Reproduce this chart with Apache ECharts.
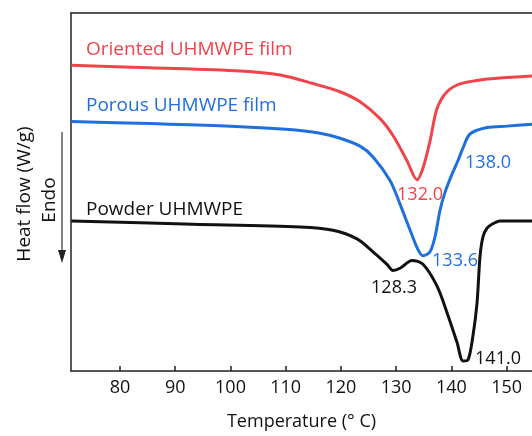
<!DOCTYPE html>
<html>
<head>
<meta charset="utf-8">
<script src="https://cdn.jsdelivr.net/npm/echarts@6/dist/echarts.min.js"></script>
<style>
html,body{margin:0;padding:0;background:#fff;}
#main{width:532px;height:436px;}
</style>
</head>
<body>
<div id="main"></div>
<script>
// Temperature (°C) and heat flow (arbitrary W/g offset units)
var orientedT = [71.2, 85.43, 101.72, 108.96, 114.94, 119.83, 123.45, 127.07, 129.42, 131.96, 133.77, 134.85, 136.12, 137.39, 139.20, 141.55, 145.17, 148.25, 154.58];
var orientedHF = [8.54, 8.47, 8.38, 8.27, 8.03, 7.80, 7.52, 7.05, 6.58, 5.87, 5.34, 5.67, 6.42, 7.33, 7.80, 8.02, 8.13, 8.18, 8.24];

var porousT = [71.2, 85.43, 100.0, 110.0, 116.21, 119.83, 123.45, 125.80, 128.88, 130.69, 132.50, 133.95, 134.85, 136.12, 137.02, 137.93, 138.83, 140.10, 141.19, 142.09, 143.36, 146.44, 150.06, 154.58];
var porousHF = [6.97, 6.91, 6.84, 6.75, 6.64, 6.50, 6.28, 5.98, 5.32, 4.66, 3.94, 3.39, 3.22, 3.33, 3.75, 4.49, 4.99, 5.50, 5.88, 6.23, 6.62, 6.80, 6.84, 6.89];

var powderT = [71.2, 93.21, 112.59, 118.56, 122.90, 125.80, 128.33, 129.42, 130.69, 132.86, 134.85, 137.39, 139.20, 141.01, 142.09, 143.00, 143.90, 144.63, 145.17, 145.71, 146.44, 147.34, 148.79, 154.58];
var powderHF = [4.19, 4.10, 4.02, 3.93, 3.69, 3.33, 2.98, 2.81, 2.87, 3.09, 2.98, 2.37, 1.63, 0.80, 0.28, 0.31, 0.99, 1.90, 3.20, 3.75, 3.99, 4.10, 4.19, 4.19];

var xTicks = [80, 90, 100, 110, 120, 130, 140, 150];

var seriesNames = ['Oriented UHMWPE film', 'Porous UHMWPE film', 'Powder UHMWPE'];
var peakLabels = ['132.0', '138.0', '133.6', '128.3', '141.0'];

function pairs(xs, ys){ return xs.map(function(x,i){ return [x, ys[i]]; }); }

var FONT = 'Open Sans';
var RED = '#f0434a', BLUE = '#1f6fdc', BLACK = '#111111';

var chart = echarts.init(document.getElementById('main'), null, {renderer:'canvas'});
function txt(text, x, y, color, align, size){
  return {type:'text', x:x, y:y, style:{text:text, fill:color, font:(size||18) + 'px "' + FONT + '"', align:align||'left', verticalAlign:'middle'}};
}
chart.setOption({
  animation:false,
  backgroundColor:'#fff',
  grid:{left:71, top:13, right:0, bottom:60},
  xAxis:[{
    type:'value', min:71.13, max:154.58, position:'bottom',
    name:'Temperature (\u00b0 C)', nameLocation:'middle', nameGap:42,
    nameTextStyle:{fontFamily:FONT, fontSize:18, color:'#111'},
    axisLine:{show:true, onZero:false, lineStyle:{color:'#222', width:1.5}},
    axisTick:{show:true, inside:true, length:5, customValues:xTicks, lineStyle:{color:'#222', width:1.5}},
    axisLabel:{customValues:xTicks, fontFamily:FONT, fontSize:18, color:'#111', margin:8},
    splitLine:{show:false}
  },{
    type:'value', min:71.13, max:154.58, position:'top',
    axisLine:{show:true, onZero:false, lineStyle:{color:'#222', width:1.5}},
    axisTick:{show:false}, axisLabel:{show:false}, splitLine:{show:false}
  }],
  yAxis:{
    type:'value', min:0, max:10,
    axisLine:{show:true, onZero:false, lineStyle:{color:'#222', width:1.5}},
    axisTick:{show:false}, axisLabel:{show:false}, splitLine:{show:false}
  },
  series:[
    {name:seriesNames[0], type:'line', data:pairs(orientedT, orientedHF), smooth:0.3, showSymbol:false, lineStyle:{color:RED, width:3}},
    {name:seriesNames[1], type:'line', data:pairs(porousT, porousHF), smooth:0.3, showSymbol:false, lineStyle:{color:BLUE, width:3}},
    {name:seriesNames[2], type:'line', data:pairs(powderT, powderHF), smooth:0.3, showSymbol:false, lineStyle:{color:BLACK, width:3}}
  ],
  graphic:[
    txt(seriesNames[0], 86, 50, RED, 'left', 19),
    txt(seriesNames[1], 86, 106, BLUE, 'left', 19),
    txt(seriesNames[2], 86, 210, BLACK, 'left', 19),
    txt(peakLabels[0], 420, 195, RED, 'center'),
    txt(peakLabels[1], 488, 163, BLUE, 'center'),
    txt(peakLabels[2], 455, 261, BLUE, 'center'),
    txt(peakLabels[3], 394, 288, BLACK, 'center'),
    txt(peakLabels[4], 498, 359, BLACK, 'center'),
    {type:'text', x:25, y:194, rotation:Math.PI/2, style:{text:'Heat flow (W/g)', fill:'#111', font:'19px "' + FONT + '"', align:'center', verticalAlign:'middle'}},
    {type:'text', x:50, y:200, rotation:Math.PI/2, style:{text:'Endo', fill:'#111', font:'19px "' + FONT + '"', align:'center', verticalAlign:'middle'}},
    {type:'line', shape:{x1:62, y1:132, x2:62, y2:254}, style:{stroke:'#333', lineWidth:1.2}},
    {type:'polygon', shape:{points:[[58,250],[66,250],[62,263]]}, style:{fill:'#222'}}
  ]
});
</script>
</body>
</html>
